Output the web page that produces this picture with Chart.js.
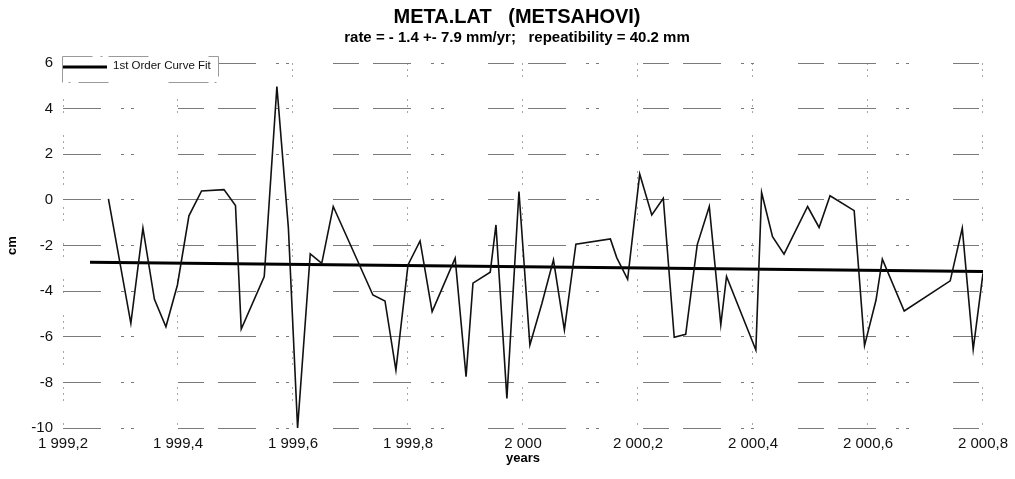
<!DOCTYPE html>
<html>
<head>
<meta charset="utf-8">
<title>META.LAT</title>
<script src="https://cdn.jsdelivr.net/npm/chart.js@4.4.1/dist/chart.umd.min.js"></script>
<style>
    html, body { margin: 0; padding: 0; background: #fff; }
    #wrap { width: 1015px; height: 479px; }
</style>
</head>
<body>
<div id="wrap"><canvas id="metaLatChart" width="1015" height="479"></canvas></div>
<script>
// observation epochs (decimal years)
var years = [1999.279, 1999.318, 1999.339, 1999.359, 1999.379, 1999.399, 1999.419, 1999.441,
    1999.480, 1999.500, 1999.510, 1999.550, 1999.572, 1999.592, 1999.608, 1999.630,
    1999.650, 1999.670, 1999.739, 1999.760, 1999.779, 1999.800, 1999.821, 1999.842,
    1999.882, 1999.901, 1999.913, 1999.943, 1999.953, 1999.972, 1999.993, 2000.012,
    2000.033, 2000.053, 2000.072, 2000.092, 2000.152, 2000.163, 2000.182, 2000.203,
    2000.224, 2000.244, 2000.263, 2000.283, 2000.303, 2000.324, 2000.344, 2000.354,
    2000.405, 2000.415, 2000.434, 2000.454, 2000.495, 2000.515, 2000.534, 2000.576,
    2000.594, 2000.614, 2000.625, 2000.663, 2000.743, 2000.764, 2000.783, 2000.800];

// latitude residuals (cm)
var lat = [0.04, -5.41, -1.24, -4.36, -5.56, -3.73, -0.70, 0.39,
    0.45, -0.25, -5.66, -3.36, 4.97, -1.24, -10.0, -2.37,
    -2.78, -0.29, -4.17, -4.43, -7.46, -2.85, -1.80, -4.90,
    -2.56, -7.75, -3.65, -3.17, -1.10, -8.70, 0.37, -6.36,
    -4.53, -2.63, -5.70, -1.94, -1.71, -2.53, -3.48, 1.13,
    -0.66, 0.07, -6.02, -5.89, -1.97, -0.29, -5.48, -3.36,
    -6.58, 0.32, -1.61, -2.38, -0.29, -1.21, 0.18, -0.47,
    -6.39, -4.39, -2.60, -4.87, -3.55, -1.24, -6.55, -3.22];

// 1st order fit end points
var fitYears = [1999.247, 2000.800];
var fitLat = [-2.73, -3.14];

// axis limits and tick steps
var xTicks = [1999.2, 2000.8, 0.2];
var yTicks = [-10, 6, 2];

var titleText = 'META.LAT   (METSAHOVI)';
var subtitleText = 'rate = - 1.4 +- 7.9 mm/yr;   repeatibility = 40.2 mm';
var legendText = '1st Order Curve Fit';

// pair up x / y arrays for a linear x scale
function toPoints(xs, ys) {
    return xs.map(function (x, i) { return { x: x, y: ys[i] }; });
}

// "1 999,2" style labels (space thousands, comma decimals)
function yearLabel(value) {
    var v = Math.round(value * 10) / 10;
    var whole = Math.floor(v + 1e-9);
    var dec = Math.round((v - whole) * 10);
    var s = String(whole).replace(/\B(?=(\d{3})+(?!\d))/g, ' ');
    return dec ? s + ',' + dec : s;
}

var fontFamily = '"Liberation Sans", Arial, sans-serif';

// broken plotter style grid
var hGridDash = [38, 20, 3, 7, 3, 44, 26, 14];
var vGridDash = [2, 4, 2, 4, 2, 22];

// station name + rate line, centred over the plot area
const headerText = {
    id: 'headerText',
    afterDraw: function (chart) {
        var c = chart.ctx;
        var area = chart.chartArea;
        var cx = (area.left + area.right) / 2 - 6;
        c.save();
        c.fillStyle = '#000';
        c.textAlign = 'center';
        c.textBaseline = 'middle';
        c.font = 'bold 20px ' + fontFamily;
        c.fillText(titleText, cx, 17);
        c.font = 'bold 15px ' + fontFamily;
        c.fillText(subtitleText, cx, 38);
        c.restore();
    }
};

// legend drawn inside the plot, top left corner
const fitLegend = {
    id: 'fitLegend',
    afterDatasetsDraw: function (chart) {
        var c = chart.ctx;
        var area = chart.chartArea;
        var x0 = area.left - 1;
        var y0 = area.top - 7;
        c.save();
        c.fillStyle = '#fff';
        c.fillRect(x0, y0, 156, 26);
        c.strokeStyle = '#9a9a9a';
        c.lineWidth = 1;
        c.setLineDash([30, 8, 2, 6, 40, 60]);
        c.strokeRect(x0 + 0.5, y0 + 0.5, 156, 26);
        c.setLineDash([]);
        c.strokeStyle = '#000';
        c.lineWidth = 3;
        c.beginPath();
        c.moveTo(area.left, area.top + 4);
        c.lineTo(area.left + 44, area.top + 4);
        c.stroke();
        c.fillStyle = '#111';
        c.font = '11.5px ' + fontFamily;
        c.textBaseline = 'middle';
        c.fillText(legendText, area.left + 50, area.top + 3);
        c.restore();
    }
};

const ctx = document.getElementById('metaLatChart');

const config = {
    type: 'line',
    data: {
        datasets: [{
            label: 'META.LAT',
            data: toPoints(years, lat),
            borderColor: '#111',
            borderWidth: 1.6,
            pointRadius: 0,
            tension: 0,
            fill: false
        }, {
            label: legendText,
            data: toPoints(fitYears, fitLat),
            borderColor: '#000',
            borderWidth: 3,
            pointRadius: 0,
            fill: false
        }]
    },
    options: {
        responsive: false,
        animation: false,
        layout: {
            padding: { left: 0, right: 30, top: 63, bottom: 13 }
        },
        plugins: {
            title: { display: false },
            subtitle: { display: false },
            legend: { display: false },
            tooltip: { enabled: false }
        },
        scales: {
            x: {
                type: 'linear',
                min: xTicks[0],
                max: xTicks[1],
                ticks: {
                    stepSize: xTicks[2],
                    color: '#111',
                    font: { family: fontFamily, size: 15 },
                    padding: 7,
                    maxRotation: 0,
                    callback: function (value) { return yearLabel(value); }
                },
                grid: {
                    color: '#a8a8a8',
                    lineWidth: 1,
                    drawTicks: false
                },
                border: { display: false, dash: vGridDash },
                title: {
                    display: true,
                    text: 'years',
                    color: '#000',
                    font: { family: fontFamily, size: 13, weight: 'bold' },
                    padding: { top: 0, bottom: 0 }
                },
                afterFit: function (scale) { scale.height = 38; }
            },
            y: {
                min: yTicks[0],
                max: yTicks[1],
                ticks: {
                    stepSize: yTicks[2],
                    color: '#111',
                    font: { family: fontFamily, size: 15 },
                    padding: 10
                },
                grid: {
                    color: '#7a7a7a',
                    lineWidth: 1,
                    drawTicks: false
                },
                border: { display: false, dash: hGridDash },
                title: {
                    display: true,
                    text: 'cm',
                    color: '#000',
                    font: { family: fontFamily, size: 13, weight: 'bold' },
                    padding: { top: 5, bottom: 6 }
                },
                afterFit: function (scale) { scale.width = 63; }
            }
        }
    },
    plugins: [fitLegend, headerText]
};

// draw chart
var metaLatChart = new Chart(ctx, config);
</script>
</body>
</html>
